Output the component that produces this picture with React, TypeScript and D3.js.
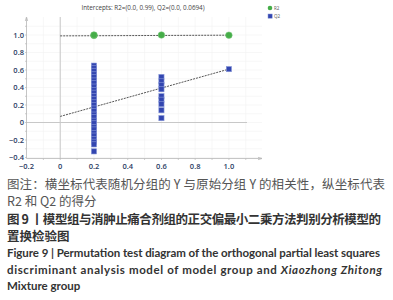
import React from "react";
import * as d3 from "d3";

const xTicks = [-0.2, 0, 0.2, 0.4, 0.6, 0.8, 1.0];
const yTicks = [1.0, 0.8, 0.6, 0.4, 0.2, 0, -0.2, -0.4];
const r2X = [0.2, 0.2, 0.6, 1.0];
const r2Y = [0.995, 1.0, 1.0, 0.998];
const q2X02 = 0.2;
const q2Y02 = [0.65, 0.62, 0.59, 0.55, 0.52, 0.48, 0.45, 0.41, 0.37, 0.34, 0.3, 0.27, 0.23, 0.2, 0.16, 0.13, 0.09, 0.06, 0.02, -0.01, -0.05, -0.08, -0.12, -0.15, -0.19, -0.22, -0.25, -0.33];
const q2X06 = 0.6;
const q2Y06 = [0.52, 0.47, 0.43, 0.38, 0.3, 0.26, 0.21, 0.14, 0.05];
const q2X10 = 1.0;
const q2Y10 = [0.61];
const r2Line = [[0, 0.99], [1.0, 0.998]];
const q2Line = [[0, 0.0694], [1.0, 0.61]];
const title = "Intercepts: R2=(0.0, 0.99), Q2=(0.0, 0.0694)";

const x = d3.scaleLinear().domain([-0.2, 1.0]).range([26.5, 228.9]);
const y = d3.scaleLinear().domain([-0.4, 1.0]).range([157.5, 35]);

const CJK = "'Noto Sans CJK SC', sans-serif";
const EN = "'Open Sans', 'Noto Sans', sans-serif";
const EN2 = "Lato, 'Noto Sans', sans-serif";

export default function App() {
  const line = d3.line<number[]>().x((d) => x(d[0])).y((d) => y(d[1]));
  const gridX = d3.range(-2, 12).map((i) => i / 10);
  const gridY = d3.range(-4, 12).map((i) => i / 10);
  const left = x(-0.2);
  const right = 262;
  const bottom = 158.5;
  const top = 17;
  const q2pts: [number, number][] = [
    ...q2Y02.map((v) => [q2X02, v] as [number, number]),
    ...q2Y06.map((v) => [q2X06, v] as [number, number]),
    ...q2Y10.map((v) => [q2X10, v] as [number, number]),
  ];
  const sq = 5.2;
  return (
    <div style={{ position: "fixed", left: 0, top: 0, width: 393, height: 300, background: "#fff" }}>
      <svg width={393} height={300} style={{ display: "block" }}>
        <rect width={393} height={300} fill="#fff" />
        {gridX.map((g, i) => (
          <line key={"gx" + i} x1={x(g)} x2={x(g)} y1={top} y2={bottom} stroke="#f1f1f1" strokeWidth={0.6} />
        ))}
        {gridY.map((g, i) => (
          <line key={"gy" + i} x1={left} x2={right} y1={y(g)} y2={y(g)} stroke="#f1f1f1" strokeWidth={0.6} />
        ))}
        <line x1={x(0)} x2={x(0)} y1={top} y2={bottom} stroke="#c8c8c8" strokeWidth={1} />
        <line x1={left} x2={right - 15} y1={y(0)} y2={y(0)} stroke="#c8c8c8" strokeWidth={1} />
        <line x1={left} x2={left} y1={top + 1} y2={bottom} stroke="#b8b8b8" strokeWidth={0.8} />
        <path d={`M${left - 1.2},${top + 4} L${left},${top} L${left + 1.2},${top + 4}`} fill="none" stroke="#b8b8b8" strokeWidth={0.8} />
        <line x1={left} x2={right} y1={bottom} y2={bottom} stroke="#b8b8b8" strokeWidth={0.8} />
        <path d={`M${right - 4},${bottom - 1.2} L${right},${bottom} L${right - 4},${bottom + 1.2}`} fill="none" stroke="#b8b8b8" strokeWidth={0.8} />
        {gridX.filter((g) => g > -0.2).map((g, i) => (
          <line key={"tx" + i} x1={x(g)} x2={x(g)} y1={bottom} y2={bottom + 1.5} stroke="#b8b8b8" strokeWidth={0.7} />
        ))}
        {gridY.map((g, i) => (
          <line key={"ty" + i} x1={left - 1.5} x2={left} y1={y(g)} y2={y(g)} stroke="#b8b8b8" strokeWidth={0.7} />
        ))}
        {yTicks.map((t, i) => (
          <text key={"yl" + i} x={24} y={y(t)} dy="0.35em" textAnchor="end" fontFamily={EN} fontSize={7.5} fontWeight={600} fill="#2b3d63">
            {t === 0 ? "0" : t.toFixed(1).replace("-", "\u2212")}
          </text>
        ))}
        {xTicks.map((t, i) => (
          <text key={"xl" + i} x={x(t)} y={166} dy="0.35em" textAnchor="middle" fontFamily={EN} fontSize={7.5} fontWeight={600} fill="#2b3d63">
            {t === 0 ? "0" : t.toFixed(1).replace("-", "\u2212")}
          </text>
        ))}
        <path d={line(r2Line) || ""} fill="none" stroke="#555" strokeWidth={1} strokeDasharray="2,1" />
        <path d={line(q2Line) || ""} fill="none" stroke="#555" strokeWidth={1} strokeDasharray="2,1" />
        {q2pts.map((p, i) => (
          <rect key={"q" + i} x={x(p[0]) - sq / 2} y={y(p[1]) - sq / 2} width={sq} height={sq} fill="#3346b0" stroke="#8797d8" strokeWidth={0.6} />
        ))}
        {r2X.map((v, i) => (
          <circle key={"r" + i} cx={x(v)} cy={y(r2Y[i])} r={3.3} fill="#45ad48" stroke="#7cc97e" strokeWidth={0.5} />
        ))}
        <text x={143} y={8} dy="0.35em" textAnchor="middle" fontFamily={EN} fontSize={6.3} fill="#444">
          {title}
        </text>
        <circle cx={270} cy={8} r={2.3} fill="#45ad48" />
        <text x={274} y={8} dy="0.35em" fontFamily={EN} fontSize={4.5} fill="#555">R2</text>
        <rect x={268} y={14} width={4.2} height={4.2} fill="#3346b0" stroke="#8797d8" strokeWidth={0.5} />
        <text x={274} y={16.2} dy="0.35em" fontFamily={EN} fontSize={4.5} fill="#555">Q2</text>
        <text x={7} y={184} dy="0.38em" fontFamily={CJK} fontSize={12.5} fill="#555" textLength={378} lengthAdjust="spacing">
          图注：横坐标代表随机分组的 Y 与原始分组 Y 的相关性，纵坐标代表
        </text>
        <text x={7} y={201.5} dy="0.38em" fontFamily={CJK} fontSize={12.5} fill="#555">
          R2 和 Q2 的得分
        </text>
        <text x={7} y={219} dy="0.38em" fontFamily={CJK} fontSize={12.5} fontWeight={700} fill="#333" textLength={374} lengthAdjust="spacing">
          图 9 丨模型组与消肿止痛合剂组的正交偏最小二乘方法判别分析模型的
        </text>
        <text x={7} y={236.5} dy="0.38em" fontFamily={CJK} fontSize={12.5} fontWeight={700} fill="#333">
          置换检验图
        </text>
        <text x={7} y={253.3} dy="0.36em" fontFamily={EN2} fontSize={11.5} fontWeight={700} fill="#333" textLength={373} lengthAdjust="spacing">
          Figure 9 | Permutation test diagram of the orthogonal partial least squares
        </text>
        <text x={7} y={269.5} dy="0.36em" fontFamily={EN2} fontSize={11.5} fontWeight={700} fill="#333" textLength={375} lengthAdjust="spacing">
          discriminant analysis model of model group and <tspan fontStyle="italic">Xiaozhong Zhitong</tspan>
        </text>
        <text x={7} y={286} dy="0.36em" fontFamily={EN2} fontSize={11.5} fontWeight={700} fill="#333">
          Mixture group
        </text>
      </svg>
    </div>
  );
}
